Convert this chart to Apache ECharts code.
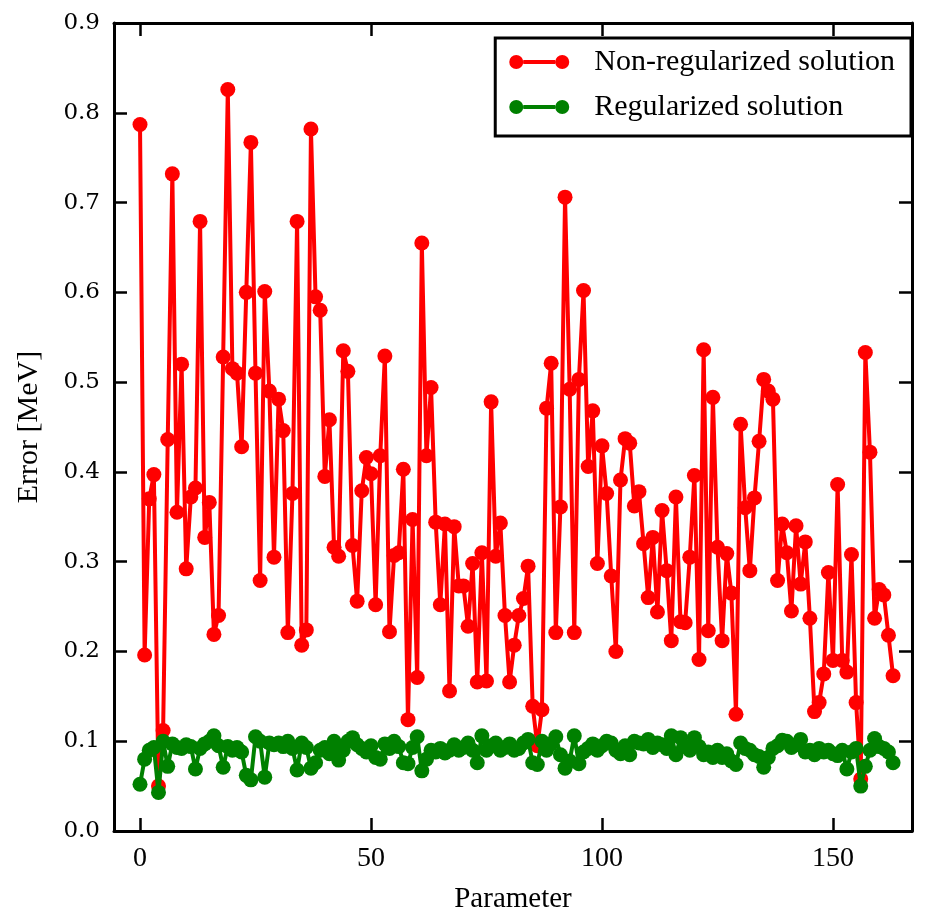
<!DOCTYPE html>
<html><head><meta charset="utf-8">
<script src="https://cdn.jsdelivr.net/npm/echarts@6/dist/echarts.min.js"></script>
<style>html,body{margin:0;padding:0;background:#fff}#c{width:927px;height:919px}</style>
</head><body><div id="c"></div><script>
const seriesNames = ['Non-regularized solution', 'Regularized solution'];
const nonRegularized = [
0.787,0.196,0.370,0.397,0.050,0.112,0.436,0.732,0.355,0.520,
0.292,0.372,0.382,0.679,0.327,0.366,0.219,0.240,0.528,0.826,
0.515,0.510,0.428,0.600,0.767,0.510,0.279,0.601,0.490,0.305,
0.481,0.446,0.221,0.376,0.679,0.207,0.224,0.782,0.595,0.580,
0.395,0.458,0.316,0.306,0.535,0.512,0.318,0.256,0.379,0.416,
0.398,0.252,0.418,0.529,0.222,0.307,0.310,0.403,0.124,0.347,
0.171,0.655,0.418,0.494,0.344,0.252,0.342,0.156,0.339,0.273,
0.273,0.228,0.298,0.166,0.310,0.167,0.478,0.306,0.343,0.240,
0.166,0.207,0.240,0.259,0.295,0.139,0.095,0.135,0.471,0.521,
0.221,0.361,0.706,0.492,0.221,0.503,0.602,0.406,0.468,0.298,
0.429,0.376,0.284,0.200,0.391,0.437,0.432,0.362,0.378,0.320,
0.260,0.327,0.244,0.357,0.290,0.212,0.372,0.233,0.232,0.305,
0.396,0.191,0.536,0.223,0.483,0.316,0.212,0.309,0.265,0.130,
0.453,0.360,0.290,0.371,0.434,0.503,0.490,0.481,0.279,0.342,
0.310,0.245,0.340,0.275,0.322,0.237,0.133,0.143,0.175,0.288,
0.190,0.386,0.190,0.177,0.308,0.143,0.058,0.533,0.422,0.237,
0.269,0.263,0.218,0.173];
const regularized = [
0.052,0.080,0.090,0.093,0.043,0.100,0.072,0.097,0.093,0.092,
0.096,0.094,0.069,0.092,0.097,0.100,0.106,0.095,0.071,0.094,
0.090,0.093,0.088,0.062,0.057,0.105,0.100,0.060,0.098,0.096,
0.098,0.094,0.100,0.092,0.068,0.098,0.093,0.070,0.076,0.090,
0.093,0.086,0.100,0.079,0.090,0.100,0.104,0.096,0.092,0.088,
0.095,0.082,0.080,0.097,0.092,0.100,0.094,0.076,0.075,0.093,
0.105,0.067,0.080,0.090,0.088,0.092,0.087,0.090,0.096,0.090,
0.093,0.098,0.090,0.076,0.106,0.090,0.095,0.098,0.090,0.093,
0.097,0.090,0.092,0.098,0.102,0.076,0.074,0.100,0.090,0.097,
0.105,0.085,0.070,0.078,0.106,0.075,0.088,0.092,0.097,0.090,
0.095,0.100,0.098,0.090,0.086,0.095,0.085,0.100,0.098,0.097,
0.102,0.093,0.098,0.096,0.092,0.106,0.085,0.104,0.094,0.090,
0.104,0.094,0.085,0.088,0.082,0.090,0.082,0.086,0.078,0.074,
0.098,0.092,0.090,0.085,0.083,0.071,0.082,0.092,0.095,0.101,
0.100,0.093,0.096,0.102,0.088,0.090,0.085,0.092,0.088,0.090,
0.086,0.084,0.090,0.069,0.088,0.092,0.050,0.072,0.090,0.103,
0.094,0.092,0.088,0.076];
const xTicks = [0, 50, 100, 150];
const yMin = 0, yMax = 0.9, yStep = 0.1;

const toPts = arr => arr.map((v, i) => [i, v]);
const legendIcon = 'path://M0,7a7,7 0 1,0 14,0a7,7 0 1,0 -14,0z M46,7a7,7 0 1,0 14,0a7,7 0 1,0 -14,0z M14,5h32v4h-32z';
const axisCommon = {
  axisLine: { show: true, onZero: false, lineStyle: { color: '#000', width: 3 } },
  splitLine: { show: false }
};
const chart = echarts.init(document.getElementById('c'));
chart.setOption({
  animation: false,
  backgroundColor: '#fff',
  grid: { left: 114, right: 15, top: 23, bottom: 85 },
  legend: {
    orient: 'vertical', right: 16, top: 38,
    backgroundColor: '#fff', borderColor: '#000', borderWidth: 3, borderRadius: 0,
    padding: [9, 16, 14, 14], itemWidth: 60, itemHeight: 15, itemGap: 15,
    icon: legendIcon, selectedMode: false,
    textStyle: { fontFamily: 'Liberation Serif', fontSize: 30, color: '#000', padding: [0, 0, 0, 20], lineHeight: 30 },
    data: seriesNames
  },
  xAxis: [
    Object.assign({}, axisCommon, {
      type: 'value', min: -5.63, max: 167.1, position: 'bottom',
      axisTick: { show: true, inside: true, length: 13, lineStyle: { color: '#000', width: 2.5 }, customValues: xTicks },
      axisLabel: { customValues: xTicks, fontFamily: 'Liberation Serif', fontSize: 28, color: '#000', margin: 14 },
      name: 'Parameter', nameLocation: 'middle', nameGap: 54,
      nameTextStyle: { fontFamily: 'Liberation Serif', fontSize: 29, color: '#000' }
    }),
    Object.assign({}, axisCommon, {
      type: 'value', min: -5.63, max: 167.1, position: 'top',
      axisTick: { show: true, inside: true, length: 13, lineStyle: { color: '#000', width: 2.5 }, customValues: xTicks },
      axisLabel: { show: false, customValues: xTicks }
    })
  ],
  yAxis: [
    Object.assign({}, axisCommon, {
      type: 'value', min: yMin, max: yMax, interval: yStep, position: 'left',
      axisTick: { show: true, inside: true, length: 13, lineStyle: { color: '#000', width: 2.5 } },
      axisLabel: { fontFamily: 'DejaVu Serif', fontSize: 23, color: '#000', margin: 14, formatter: v => v.toFixed(1) },
      name: 'Error [MeV]', nameLocation: 'middle', nameGap: 70, nameRotate: 90,
      nameTextStyle: { fontFamily: 'Liberation Serif', fontSize: 30, color: '#000' }
    }),
    Object.assign({}, axisCommon, {
      type: 'value', min: yMin, max: yMax, interval: yStep, position: 'right',
      axisTick: { show: true, inside: true, length: 13, lineStyle: { color: '#000', width: 2.5 } },
      axisLabel: { show: false }
    })
  ],
  series: [
    {
      name: seriesNames[0], type: 'line', data: toPts(nonRegularized),
      symbol: 'circle', symbolSize: 15, showAllSymbol: true,
      lineStyle: { color: '#ff0000', width: 4 }, itemStyle: { color: '#ff0000' }, z: 2
    },
    {
      name: seriesNames[1], type: 'line', data: toPts(regularized),
      symbol: 'circle', symbolSize: 15, showAllSymbol: true,
      lineStyle: { color: '#008000', width: 4 }, itemStyle: { color: '#008000' }, z: 3
    }
  ]
});
</script></body></html>
